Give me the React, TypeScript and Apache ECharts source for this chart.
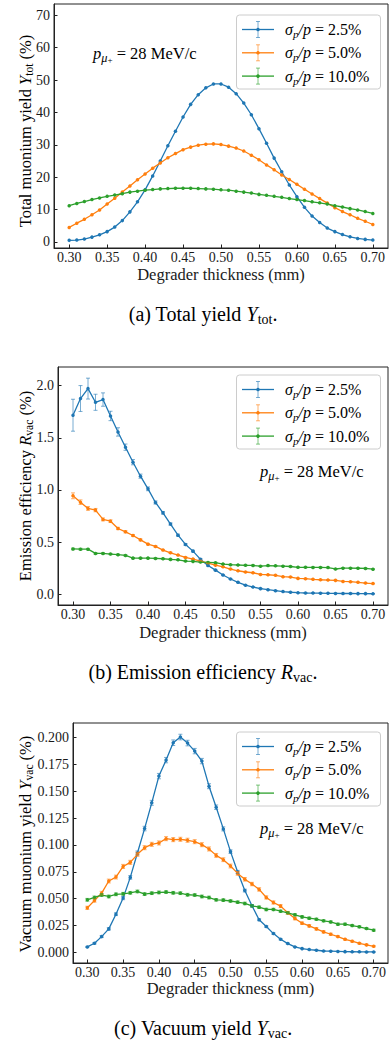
import React, { useEffect, useRef } from "react";
import * as echarts from "echarts";

// ---------- data ----------
const thickness = [
  0.30, 0.31, 0.32, 0.33, 0.34, 0.35, 0.36, 0.37, 0.38, 0.39,
  0.40, 0.41, 0.42, 0.43, 0.44, 0.45, 0.46, 0.47, 0.48, 0.49,
  0.50, 0.51, 0.52, 0.53, 0.54, 0.55, 0.56, 0.57, 0.58, 0.59,
  0.60, 0.61, 0.62, 0.63, 0.64, 0.65, 0.66, 0.67, 0.68, 0.69, 0.70,
];
const seriesLabels = ["2.5%", "5.0%", "10.0%"];
const colors = ["#1f77b4", "#ff7f0e", "#2ca02c"];

const xTicks = [0.30, 0.35, 0.40, 0.45, 0.50, 0.55, 0.60, 0.65, 0.70];
const yTicksA = [0, 10, 20, 30, 40, 50, 60, 70];
const yTicksB = [0, 0.5, 1.0, 1.5, 2.0];
const yTicksC = [0, 0.025, 0.05, 0.075, 0.1, 0.125, 0.15, 0.175, 0.2];

// (a) Total yield (%)
const totA25 = [0.5, 0.6, 0.9, 1.5, 2.2, 3.2, 4.6, 6.6, 9.3, 12.4, 16.1, 20.4, 25.0, 29.7, 34.2, 38.6, 42.5, 45.5, 47.6, 48.8, 48.8, 47.8, 45.8, 42.9, 39.3, 35.0, 30.5, 25.9, 21.7, 17.6, 14.0, 10.7, 8.0, 6.0, 4.3, 3.2, 2.3, 1.6, 1.1, 0.8, 0.6];
const totA50 = [4.5, 5.8, 7.0, 8.4, 9.9, 11.7, 13.5, 15.4, 17.3, 19.2, 21.0, 22.8, 24.4, 26.0, 27.3, 28.5, 29.3, 29.9, 30.2, 30.3, 30.1, 29.6, 29.0, 28.1, 26.8, 25.4, 23.8, 22.3, 20.7, 19.3, 17.8, 16.3, 14.8, 13.4, 12.0, 10.6, 9.4, 8.4, 7.3, 6.4, 5.4];
const totA100 = [11.2, 11.9, 12.5, 13.1, 13.6, 14.1, 14.5, 14.9, 15.4, 15.7, 16.0, 16.2, 16.4, 16.5, 16.6, 16.6, 16.6, 16.5, 16.4, 16.3, 16.1, 16.0, 15.7, 15.4, 15.1, 14.7, 14.4, 14.1, 13.8, 13.4, 13.1, 12.8, 12.4, 12.1, 11.7, 11.2, 10.8, 10.3, 9.9, 9.4, 8.8];

// (b) Emission efficiency (%)
const effB25 = [1.716, 1.876, 1.971, 1.840, 1.866, 1.709, 1.556, 1.410, 1.266, 1.132, 1.011, 0.880, 0.781, 0.673, 0.567, 0.478, 0.414, 0.335, 0.277, 0.232, 0.185, 0.147, 0.115, 0.088, 0.070, 0.055, 0.045, 0.035, 0.027, 0.020, 0.016, 0.013, 0.012, 0.011, 0.010, 0.009, 0.008, 0.008, 0.007, 0.007, 0.006];
const effB25Err = [0.153, 0.124, 0.100, 0.077, 0.064, 0.045, 0.040, 0.030, 0.025, 0.020, 0.018, 0.015, 0.013, 0.011, 0.010, 0.009, 0.008, 0.007, 0.006, 0.005, 0.005, 0.004, 0.004, 0.003, 0.003, 0.003, 0.003, 0.003, 0.002, 0.002, 0.002, 0.002, 0.002, 0.002, 0.002, 0.002, 0.002, 0.002, 0.002, 0.002, 0.002];
const effB50 = [0.944, 0.883, 0.823, 0.807, 0.718, 0.701, 0.631, 0.599, 0.564, 0.522, 0.481, 0.459, 0.424, 0.398, 0.376, 0.354, 0.338, 0.319, 0.300, 0.280, 0.264, 0.242, 0.226, 0.214, 0.207, 0.191, 0.188, 0.182, 0.169, 0.166, 0.153, 0.150, 0.144, 0.140, 0.137, 0.134, 0.124, 0.121, 0.115, 0.108, 0.103];
const effB50Err = [0.028, 0.022, 0.018, 0.016, 0.014, 0.013, 0.011, 0.010, 0.009, 0.008, 0.007, 0.007, 0.006, 0.006, 0.005, 0.005, 0.005, 0.004, 0.004, 0.004, 0.004, 0.004, 0.003, 0.003, 0.003, 0.003, 0.003, 0.003, 0.003, 0.003, 0.003, 0.003, 0.003, 0.003, 0.003, 0.003, 0.003, 0.003, 0.003, 0.003, 0.003];
const effB100 = [0.435, 0.433, 0.433, 0.392, 0.392, 0.386, 0.380, 0.373, 0.347, 0.347, 0.347, 0.344, 0.341, 0.335, 0.331, 0.319, 0.316, 0.309, 0.306, 0.303, 0.290, 0.284, 0.281, 0.278, 0.277, 0.270, 0.276, 0.273, 0.270, 0.267, 0.259, 0.259, 0.258, 0.258, 0.257, 0.243, 0.251, 0.251, 0.250, 0.248, 0.241];
const effB100Err = [0.008, 0.008, 0.007, 0.007, 0.007, 0.006, 0.006, 0.006, 0.006, 0.005, 0.005, 0.005, 0.005, 0.005, 0.005, 0.005, 0.004, 0.004, 0.004, 0.004, 0.004, 0.004, 0.004, 0.004, 0.004, 0.004, 0.004, 0.004, 0.004, 0.004, 0.004, 0.004, 0.004, 0.004, 0.004, 0.004, 0.004, 0.004, 0.004, 0.004, 0.004];

// (c) Vacuum yield (%)
const vacC25 = [0.0050, 0.0084, 0.0146, 0.0218, 0.0355, 0.0505, 0.0698, 0.0925, 0.1153, 0.1393, 0.1642, 0.1791, 0.1953, 0.2006, 0.1950, 0.1875, 0.1782, 0.1548, 0.1352, 0.1150, 0.0938, 0.0748, 0.0575, 0.0433, 0.0303, 0.0240, 0.0174, 0.0121, 0.0081, 0.0050, 0.0034, 0.0025, 0.0019, 0.0012, 0.0010, 0.0008, 0.0006, 0.0005, 0.0004, 0.0003, 0.0003];
const vacC25Err = [0.0005, 0.0007, 0.0009, 0.0011, 0.0013, 0.0015, 0.0017, 0.0019, 0.0021, 0.0023, 0.0025, 0.0025, 0.0026, 0.0026, 0.0026, 0.0025, 0.0025, 0.0023, 0.0021, 0.0019, 0.0017, 0.0015, 0.0013, 0.0011, 0.0009, 0.0008, 0.0007, 0.0006, 0.0005, 0.0004, 0.0003, 0.0003, 0.0002, 0.0002, 0.0002, 0.0002, 0.0001, 0.0001, 0.0001, 0.0001, 0.0001];
const vacC50 = [0.0414, 0.0483, 0.0551, 0.0664, 0.0701, 0.0800, 0.0838, 0.0913, 0.0975, 0.1006, 0.1019, 0.1059, 0.1050, 0.1053, 0.1044, 0.1031, 0.1003, 0.0963, 0.0903, 0.0863, 0.0804, 0.0735, 0.0680, 0.0636, 0.0586, 0.0511, 0.0464, 0.0430, 0.0368, 0.0315, 0.0271, 0.0246, 0.0218, 0.0190, 0.0168, 0.0146, 0.0121, 0.0103, 0.0084, 0.0069, 0.0056];
const vacC50Err = [0.0015, 0.0016, 0.0017, 0.0018, 0.0018, 0.0019, 0.0019, 0.0019, 0.0019, 0.0019, 0.0019, 0.0019, 0.0019, 0.0019, 0.0019, 0.0019, 0.0019, 0.0019, 0.0018, 0.0018, 0.0018, 0.0017, 0.0017, 0.0016, 0.0016, 0.0015, 0.0015, 0.0014, 0.0013, 0.0013, 0.0012, 0.0011, 0.0011, 0.0010, 0.0010, 0.0009, 0.0008, 0.0008, 0.0007, 0.0007, 0.0006];
const vacC100 = [0.0489, 0.0511, 0.0533, 0.0520, 0.0540, 0.0545, 0.0554, 0.0567, 0.0542, 0.0551, 0.0558, 0.0561, 0.0554, 0.0551, 0.0536, 0.0533, 0.0520, 0.0510, 0.0489, 0.0486, 0.0478, 0.0467, 0.0455, 0.0433, 0.0420, 0.0399, 0.0399, 0.0383, 0.0368, 0.0349, 0.0330, 0.0318, 0.0308, 0.0293, 0.0283, 0.0262, 0.0262, 0.0249, 0.0237, 0.0221, 0.0206];
const vacC100Err = [0.0013, 0.0013, 0.0013, 0.0013, 0.0013, 0.0013, 0.0013, 0.0013, 0.0013, 0.0013, 0.0013, 0.0013, 0.0013, 0.0013, 0.0013, 0.0013, 0.0013, 0.0013, 0.0012, 0.0012, 0.0012, 0.0012, 0.0012, 0.0012, 0.0012, 0.0012, 0.0011, 0.0011, 0.0011, 0.0011, 0.0011, 0.0011, 0.0010, 0.0010, 0.0010, 0.0010, 0.0010, 0.0010, 0.0010, 0.0009, 0.0009];

// ---------- styling / layout ----------
const FONT = "Liberation Serif";
const INK = "#1a1a1a";

const panels = [
  {
    grid: { left: 54, top: 4, width: 334, height: 244 },
    yMin: -1.86, yMax: 73.5, yTicks: yTicksA, yDec: 0,
    series: [totA25, totA50, totA100], errors: null as null | number[][],
    yTitle: "{n|Total muonium yield }{i|Y}{s|tot}{n| (%)}", yTitleY: 131,
    xTitleY: 274.5, caption: "{c|(a) Total yield }{ci|Y}{cs|tot}{c|.}", captionY: 314,
    legendTop: 15, annot: { x: 93, y: 53 },
  },
  {
    grid: { left: 58, top: 367, width: 330, height: 238 },
    yMin: -0.102, yMax: 2.178, yTicks: yTicksB, yDec: 1,
    series: [effB25, effB50, effB100], errors: [effB25Err, effB50Err, effB100Err],
    yTitle: "{n|Emission efficiency }{i|R}{s|vac}{n| (%)}", yTitleY: 486,
    xTitleY: 632, caption: "{c|(b) Emission efficiency }{ci|R}{cs|vac}{c|.}", captionY: 672,
    legendTop: 375, annot: { x: 260, y: 471 },
  },
  {
    grid: { left: 73, top: 723, width: 315, height: 240 },
    yMin: -0.010, yMax: 0.2137, yTicks: yTicksC, yDec: 3,
    series: [vacC25, vacC50, vacC100], errors: [vacC25Err, vacC50Err, vacC100Err],
    yTitle: "{n|Vacuum muonium yield }{i|Y}{s|vac}{n| (%)}", yTitleY: 844,
    xTitleY: 988.5, caption: "{c|(c) Vacuum yield }{ci|Y}{cs|vac}{c|.}", captionY: 1028,
    legendTop: 732, annot: { x: 260, y: 828 },
  },
];

function richStyles(size: number) {
  const base = { fontFamily: FONT, color: INK };
  return {
    n: { ...base, fontSize: size, lineHeight: size * 1.25 },
    i: { ...base, fontSize: size, lineHeight: size * 1.25, fontStyle: "italic" },
    s: { ...base, fontSize: size * 0.7, lineHeight: size * 0.8, verticalAlign: "bottom" },
    si: { ...base, fontSize: size * 0.7, lineHeight: size * 0.8, verticalAlign: "bottom", fontStyle: "italic" },
    mu: { ...base, fontSize: size * 0.75, lineHeight: size * 0.85, verticalAlign: "bottom", fontStyle: "italic" },
    sup: { ...base, fontSize: size * 0.55, lineHeight: size * 1.35, verticalAlign: "bottom" },
    c: { ...base, fontSize: 20, lineHeight: 25 },
    ci: { ...base, fontSize: 20, lineHeight: 25, fontStyle: "italic" },
    cs: { ...base, fontSize: 14, lineHeight: 16, verticalAlign: "bottom" },
  };
}

function errorSeries(idx: number, values: number[], errs: number[], color: string) {
  return {
    type: "custom",
    xAxisIndex: idx,
    yAxisIndex: idx,
    silent: true,
    z: 3,
    encode: { x: 0, y: 1 },
    data: thickness.map((x, i) => [x, values[i], errs[i]]),
    renderItem: (_params: any, api: any) => {
      const x = api.value(0);
      const y = api.value(1);
      const e = api.value(2);
      const p1 = api.coord([x, y + e]);
      const p2 = api.coord([x, y - e]);
      const st = { stroke: color, lineWidth: 1, opacity: 0.6 };
      return {
        type: "group",
        children: [
          { type: "line", shape: { x1: p1[0], y1: p1[1], x2: p2[0], y2: p2[1] }, style: st },
          { type: "line", shape: { x1: p1[0] - 2, y1: p1[1], x2: p1[0] + 2, y2: p1[1] }, style: st },
          { type: "line", shape: { x1: p2[0] - 2, y1: p2[1], x2: p2[0] + 2, y2: p2[1] }, style: st },
        ],
      };
    },
  };
}

function buildOption() {
  const grids: any[] = [];
  const xAxes: any[] = [];
  const yAxes: any[] = [];
  const series: any[] = [];
  const graphics: any[] = [];
  const tickLabel = { fontSize: 14, fontFamily: FONT, color: INK };

  panels.forEach((p, idx) => {
    grids.push({ ...p.grid, show: true, borderColor: "#222", borderWidth: 1, backgroundColor: "transparent" });
    xAxes.push({
      type: "value", gridIndex: idx, min: 0.28, max: 0.72,
      axisLine: { show: true, onZero: false, lineStyle: { color: "#222", width: 1 } },
      axisTick: { show: true, inside: true, length: 3.5, customValues: xTicks, lineStyle: { color: "#222" } },
      axisLabel: { ...tickLabel, margin: 2, customValues: xTicks, formatter: (v: number) => v.toFixed(2) },
      splitLine: { show: false },
    });
    yAxes.push({
      type: "value", gridIndex: idx, min: p.yMin, max: p.yMax,
      axisLine: { show: true, onZero: false, lineStyle: { color: "#222", width: 1 } },
      axisTick: { show: true, inside: true, length: 3.5, customValues: p.yTicks, lineStyle: { color: "#222" } },
      axisLabel: { ...tickLabel, margin: 4, customValues: p.yTicks, formatter: (v: number) => v.toFixed(p.yDec) },
      splitLine: { show: false },
    });

    p.series.forEach((vals, si) => {
      series.push({
        type: "line", xAxisIndex: idx, yAxisIndex: idx,
        name: `${idx}-${seriesLabels[si]}`,
        data: thickness.map((x, i) => [x, vals[i]]),
        symbol: "circle", symbolSize: 3.5, showSymbol: true,
        lineStyle: { color: colors[si], width: 1.3 },
        itemStyle: { color: colors[si] },
        z: 2 + si * 0.1,
        silent: true,
      });
      if (p.errors) series.push(errorSeries(idx, vals, p.errors[si], colors[si]));
    });

    const cx = p.grid.left + p.grid.width / 2;
    // axis titles
    graphics.push({
      type: "text", x: cx, y: p.xTitleY, z: 20,
      style: { text: "Degrader thickness (mm)", fontSize: 16.5, fontFamily: FONT, fill: INK, align: "center", verticalAlign: "middle" },
    });
    graphics.push({
      type: "text", x: 25, y: p.yTitleY, rotation: Math.PI / 2, z: 20,
      style: { text: p.yTitle, rich: richStyles(16.5), align: "center", verticalAlign: "middle" },
    });
    // caption
    graphics.push({
      type: "text", x: 203, y: p.captionY, z: 20,
      style: { text: p.caption, rich: richStyles(20), align: "center", verticalAlign: "middle" },
    });
    // annotation
    graphics.push({
      type: "text", x: p.annot.x, y: p.annot.y, z: 20,
      style: {
        text: "{i|p}{mu|μ}{sup|+}{n| = 28 MeV/c}", rich: richStyles(16.5),
        align: "left", verticalAlign: "middle",
      },
    });
    // legend
    const lt = p.legendTop;
    graphics.push({
      type: "rect", z: 30,
      shape: { x: 236.5, y: lt, width: 144, height: 74, r: 3 },
      style: { fill: "rgba(255,255,255,0.85)", stroke: "#cccccc", lineWidth: 1 },
    });
    seriesLabels.forEach((lab, si) => {
      const yy = lt + 14.5 + si * 23.3;
      const c = colors[si];
      const eb = { stroke: c, lineWidth: 1, opacity: 0.6 };
      graphics.push({ type: "line", z: 31, shape: { x1: 242, y1: yy, x2: 274, y2: yy }, style: { stroke: c, lineWidth: 1.3 } });
      graphics.push({ type: "line", z: 31, shape: { x1: 258, y1: yy - 8, x2: 258, y2: yy + 8 }, style: eb });
      graphics.push({ type: "line", z: 31, shape: { x1: 256, y1: yy - 8, x2: 260, y2: yy - 8 }, style: eb });
      graphics.push({ type: "line", z: 31, shape: { x1: 256, y1: yy + 8, x2: 260, y2: yy + 8 }, style: eb });
      graphics.push({ type: "circle", z: 32, shape: { cx: 258, cy: yy, r: 1.8 }, style: { fill: c } });
      graphics.push({
        type: "text", x: 285, y: yy, z: 32,
        style: {
          text: `{i|σ}{si|p}{i|/p}{n| = ${lab}}`, rich: richStyles(16),
          align: "left", verticalAlign: "middle",
        },
      });
    });
  });

  return {
    animation: false,
    backgroundColor: "#ffffff",
    grid: grids,
    xAxis: xAxes,
    yAxis: yAxes,
    series,
    graphic: graphics,
  };
}

export default function App() {
  const ref = useRef<HTMLDivElement>(null);
  useEffect(() => {
    if (!ref.current) return;
    const chart = echarts.init(ref.current, undefined, { renderer: "svg" });
    chart.setOption(buildOption() as any);
    return () => chart.dispose();
  }, []);
  return (
    <div
      ref={ref}
      style={{ position: "absolute", left: 0, top: 0, width: 389, height: 1041, background: "#fff" }}
    />
  );
}
